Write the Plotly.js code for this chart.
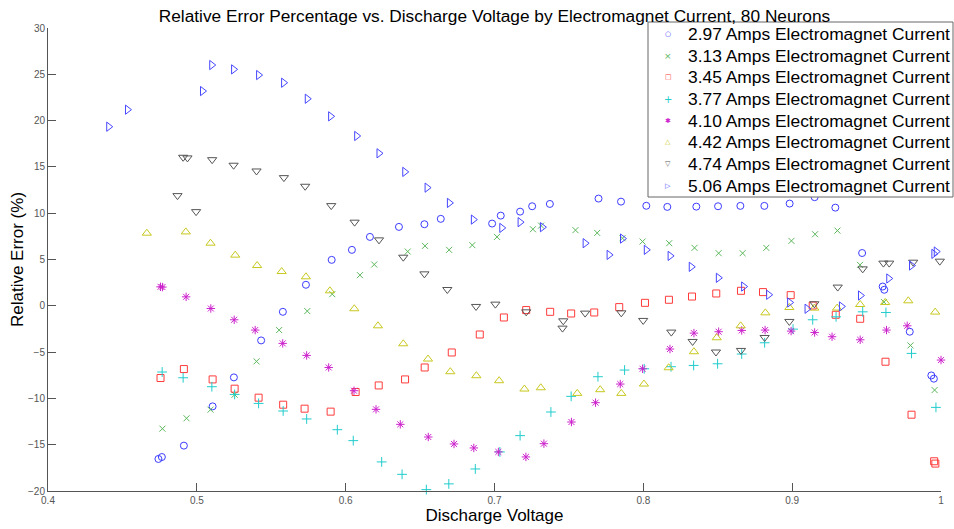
<!DOCTYPE html>
<html>
<head>
<meta charset="utf-8">
<script src="https://cdn.plot.ly/plotly-3.0.1.min.js"></script>
<style>
  html, body { margin: 0; padding: 0; background: #fff; }
  #chart { width: 954px; height: 529px; }
</style>
</head>
<body>
<div id="chart"></div>
<script>
// Relative error (%) against discharge voltage, one series per electromagnet current
const currents = ['2.97', '3.13', '3.45', '3.77', '4.10', '4.42', '4.74', '5.06'];

const volt297 = [0.4742, 0.4765, 0.4913, 0.5106, 0.5249, 0.5432, 0.5578, 0.5733, 0.5906, 0.6042, 0.6163, 0.6358, 0.6529, 0.6639, 0.6984, 0.7042, 0.7172, 0.7253, 0.7372, 0.7699, 0.785, 0.802, 0.8161, 0.8356, 0.8502, 0.8652, 0.8813, 0.8983, 0.9151, 0.929, 0.947, 0.9608, 0.9619, 0.979, 0.9935, 0.9952];
const err297 = [-16.54, -16.33, -15.10, -10.86, -7.73, -3.74, -0.65, 2.27, 4.96, 6.04, 7.44, 8.52, 8.81, 9.39, 8.88, 9.74, 10.17, 10.75, 11.0, 11.58, 11.25, 10.8, 10.68, 10.71, 10.75, 10.79, 10.79, 11.04, 11.73, 10.6, 5.7, 2.08, 1.73, -2.80, -7.52, -7.87];

const volt313 = [0.4769, 0.4931, 0.5092, 0.5254, 0.5401, 0.5553, 0.5742, 0.591, 0.6096, 0.6192, 0.6417, 0.6533, 0.6695, 0.6851, 0.7017, 0.7258, 0.7313, 0.7544, 0.769, 0.786, 0.7995, 0.8174, 0.8344, 0.8506, 0.8667, 0.8826, 0.8995, 0.9154, 0.9304, 0.9456, 0.9617, 0.9795, 0.9957];
const err313 = [-13.27, -12.15, -11.22, -9.6, -6.0, -2.62, -0.57, 1.26, 3.31, 4.46, 5.86, 6.47, 6.04, 6.55, 7.44, 8.27, 8.66, 8.17, 7.87, 7.30, 6.94, 6.76, 6.26, 5.68, 5.68, 6.26, 7.01, 7.73, 8.12, 4.42, 0.40, -4.28, -9.10];

const volt345 = [0.4756, 0.4913, 0.5106, 0.5254, 0.5415, 0.558, 0.5724, 0.5899, 0.6067, 0.6222, 0.6399, 0.6531, 0.6713, 0.6901, 0.7063, 0.7213, 0.7374, 0.7515, 0.767, 0.7838, 0.8011, 0.8172, 0.8327, 0.849, 0.8656, 0.8804, 0.899, 0.9138, 0.9293, 0.9457, 0.9627, 0.9802, 0.9954, 0.9962];
const err345 = [-7.80, -6.83, -7.95, -8.95, -9.92, -10.68, -11.11, -11.43, -9.31, -8.60, -7.95, -6.66, -5.04, -3.10, -1.26, -0.46, -0.65, -0.83, -0.72, -0.14, 0.32, 0.65, 1.0, 1.33, 1.62, 1.48, 1.15, 0.03, -0.97, -1.40, -6.04, -11.76, -16.79, -17.04];

const volt377 = [0.4767, 0.4908, 0.5101, 0.5254, 0.5415, 0.558, 0.5738, 0.5944, 0.6051, 0.6242, 0.6379, 0.6542, 0.6693, 0.6871, 0.7036, 0.7172, 0.7379, 0.7515, 0.7695, 0.7874, 0.8006, 0.8186, 0.8338, 0.8499, 0.8661, 0.8815, 0.9006, 0.9138, 0.9295, 0.9474, 0.963, 0.9802, 0.9966];
const err377 = [-7.15, -7.77, -8.74, -9.57, -10.54, -11.36, -12.22, -13.38, -14.56, -16.86, -18.2, -19.85, -19.23, -17.62, -15.78, -14.02, -11.47, -9.78, -7.66, -6.94, -6.80, -6.58, -6.44, -6.26, -5.21, -3.99, -2.52, -1.51, -1.19, -0.65, -0.72, -5.14, -10.97];

const volt410 = [0.4756, 0.4769, 0.4928, 0.5094, 0.5251, 0.5392, 0.5577, 0.5738, 0.5886, 0.6056, 0.6204, 0.6367, 0.6555, 0.6728, 0.6861, 0.7026, 0.7211, 0.7332, 0.7517, 0.7679, 0.7845, 0.7995, 0.8179, 0.834, 0.8506, 0.8661, 0.8818, 0.8993, 0.9151, 0.9268, 0.9457, 0.9634, 0.9773, 1.0];
const err410 = [2.05, 2.02, 0.97, -0.29, -1.51, -2.62, -4.06, -5.36, -6.66, -9.17, -11.18, -12.8, -14.17, -14.92, -15.35, -15.78, -16.32, -14.89, -12.55, -10.46, -8.45, -6.80, -4.67, -2.95, -2.80, -2.66, -2.62, -2.73, -2.88, -3.34, -3.67, -2.62, -2.16, -5.86];

const volt442 = [0.4664, 0.4926, 0.5092, 0.5258, 0.5405, 0.557, 0.5733, 0.5894, 0.6058, 0.6217, 0.6387, 0.6553, 0.6703, 0.6878, 0.7031, 0.7201, 0.7311, 0.7556, 0.771, 0.7852, 0.8004, 0.817, 0.834, 0.8493, 0.8654, 0.882, 0.8981, 0.9149, 0.9302, 0.9457, 0.9625, 0.978, 0.9961];
const err442 = [7.84, 7.98, 6.76, 5.47, 4.35, 3.70, 3.13, 1.62, -0.32, -2.16, -4.10, -5.75, -7.12, -7.55, -8.09, -8.99, -8.85, -9.46, -9.06, -9.46, -8.45, -6.69, -4.96, -3.45, -2.16, -0.76, -0.18, -0.25, -0.25, 0.14, 0.36, 0.54, -0.68];

const volt474 = [0.487, 0.4908, 0.4937, 0.4995, 0.5103, 0.5247, 0.5401, 0.5585, 0.5728, 0.5903, 0.606, 0.6224, 0.6387, 0.6529, 0.6683, 0.6876, 0.7006, 0.7213, 0.7457, 0.7462, 0.7609, 0.7852, 0.7999, 0.8188, 0.8331, 0.8488, 0.8656, 0.8815, 0.8981, 0.9149, 0.9306, 0.9474, 0.9613, 0.9652, 0.9813, 0.9992];
const err474 = [11.9, 16.04, 15.97, 10.17, 15.78, 15.18, 14.56, 13.84, 12.91, 10.82, 9.03, 7.12, 5.25, 3.45, 1.76, -0.07, 0.18, -0.65, -2.41, -1.62, -0.79, -0.76, -1.58, -2.84, -3.85, -4.99, -4.82, -3.42, -1.69, 0.22, 2.02, 3.99, 4.61, 4.61, 4.71, 4.82];

const volt506 = [0.4408, 0.4534, 0.5038, 0.510, 0.5247, 0.5415, 0.5583, 0.5742, 0.5899, 0.6074, 0.6224, 0.6397, 0.6547, 0.6697, 0.6858, 0.7049, 0.7172, 0.7322, 0.7609, 0.777, 0.786, 0.802, 0.818, 0.8322, 0.8504, 0.8674, 0.8842, 0.8983, 0.91, 0.9331, 0.9459, 0.9649, 0.9802, 0.9952, 0.9968];
const err506 = [19.34, 21.18, 23.19, 26.0, 25.53, 24.92, 24.09, 22.36, 20.46, 18.34, 16.47, 14.46, 12.76, 11.11, 9.31, 8.41, 9.03, 8.49, 6.76, 5.50, 7.26, 6.04, 5.39, 4.21, 3.02, 2.08, 1.19, 0.36, -0.32, -0.07, 1.11, 2.95, 4.35, 5.61, 5.86];

const xTicks = [0.4, 0.5, 0.6, 0.7, 0.8, 0.9, 1];
const xTickText = ['0.4', '0.5', '0.6', '0.7', '0.8', '0.9', '1'];
const yTicks = [-20, -15, -10, -5, 0, 5, 10, 15, 20, 25, 30];

const voltages = [volt297, volt313, volt345, volt377, volt410, volt442, volt474, volt506];
const errors = [err297, err313, err345, err377, err410, err442, err474, err506];

const symbols = ['circle-open', 'x-thin-open', 'square-open', 'cross-thin-open',
                 'asterisk-open', 'triangle-up-open', 'triangle-down-open', 'triangle-right-open'];
const keyGlyphs = ['\u25CB', '\u00D7', '\u25A1', '+', '\u2731', '\u25B3', '\u25BD', '\u25B7'];
const keySizes = [7, 9, 7, 10, 7, 7, 7, 7];
const colors = ['#3b3bff', '#5cb85c', '#ff3b3b', '#22cccc', '#cc22cc', '#c8c820', '#555555', '#4646ff'];
const sizes = [7, 6, 7, 7, 7, 8, 8, 8];

const FONT = '"Liberation Sans", Arial, Helvetica, sans-serif';

// Figure geometry (pixels)
const W = 954, H = 529;
const M = { l: 48, r: 13, t: 28, b: 38 };
const plotW = W - M.l - M.r, plotH = H - M.t - M.b;
const px2x = p => (p - M.l) / plotW;
const py2y = p => (H - M.b - p) / plotH;

const traces = currents.map((c, i) => ({
  type: 'scatter',
  mode: 'markers',
  name: c + ' Amps Electromagnet Current',
  x: voltages[i],
  y: errors[i],
  cliponaxis: false,
  showlegend: false,
  marker: {
    symbol: symbols[i],
    size: sizes[i],
    color: colors[i],
    line: { color: colors[i], width: 1 }
  }
}));

// Legend box in the upper right corner, drawn above the markers
const box = { left: 648, right: 953, top: 22, bottom: 197 };
const rowFirst = 34, rowStep = 21.67, keyX = 668, labelX = 686;

const shapes = [{
  type: 'rect', layer: 'above',
  xref: 'paper', yref: 'paper',
  x0: px2x(box.left), x1: px2x(box.right),
  y0: py2y(box.bottom), y1: py2y(box.top),
  fillcolor: '#ffffff',
  line: { color: '#666666', width: 1 }
}];

const annotations = [];
currents.forEach((c, i) => {
  const yRow = py2y(rowFirst + i * rowStep);
  annotations.push({
    xref: 'paper', yref: 'paper',
    x: px2x(keyX), y: yRow, xanchor: 'center', yanchor: 'middle',
    text: keyGlyphs[i], showarrow: false,
    font: { family: '"DejaVu Sans", sans-serif', size: keySizes[i], color: colors[i] }
  });
  annotations.push({
    xref: 'paper', yref: 'paper',
    x: px2x(labelX), y: yRow, xanchor: 'left', yanchor: 'middle',
    text: c + ' Amps Electromagnet Current', showarrow: false,
    font: { family: FONT, size: 17.4, color: '#000000' }
  });
});

const axisCommon = {
  showgrid: false,
  zeroline: false,
  showline: true,
  linecolor: '#555555',
  linewidth: 1,
  mirror: false,
  ticks: 'inside',
  ticklen: 8,
  tickcolor: '#555555',
  tickfont: { family: FONT, size: 10, color: '#555555' }
};

const layout = {
  width: W,
  height: H,
  margin: { l: M.l, r: M.r, t: M.t, b: M.b, autoexpand: false },
  paper_bgcolor: '#ffffff',
  plot_bgcolor: '#ffffff',
  font: { family: FONT },
  showlegend: false,
  title: {
    text: 'Relative Error Percentage vs. Discharge Voltage by Electromagnet Current, 80 Neurons',
    font: { family: FONT, size: 17.3, color: '#000000' },
    xref: 'paper', x: 0.5, xanchor: 'center',
    yref: 'container', y: 1 - 16 / H, yanchor: 'middle'
  },
  xaxis: Object.assign({}, axisCommon, {
    range: [0.4, 1],
    tickmode: 'array',
    tickvals: xTicks,
    ticktext: xTickText,
    title: { text: 'Discharge Voltage', font: { family: FONT, size: 17, color: '#000000' }, standoff: 4 }
  }),
  yaxis: Object.assign({}, axisCommon, {
    range: [-20, 30],
    tickmode: 'array',
    tickvals: yTicks,
    title: { text: 'Relative Error (%)', font: { family: FONT, size: 17, color: '#000000' }, standoff: 0 }
  }),
  shapes: shapes,
  annotations: annotations
};

Plotly.newPlot('chart', traces, layout, { displayModeBar: false, staticPlot: true });
</script>
</body>
</html>
